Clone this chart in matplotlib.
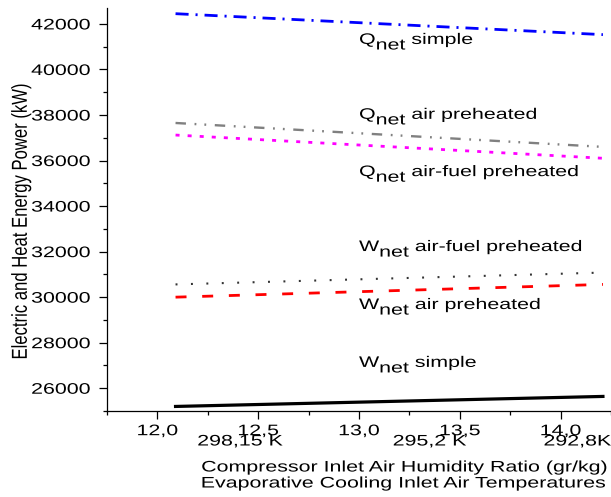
import matplotlib
matplotlib.use('Agg')
import matplotlib.pyplot as plt
from matplotlib.ticker import MultipleLocator, FuncFormatter
from matplotlib.patheffects import AbstractPathEffect
from matplotlib.transforms import Affine2D

plt.rcParams['font.family'] = ['Liberation Sans', 'DejaVu Sans']
plt.rcParams['lines.scale_dashes'] = False

# ---- data ----
humidity = [12.09, 14.21]
q_simple = [42450, 41530]
q_air = [37650, 36600]
q_airfuel = [37120, 36100]
w_airfuel = [30560, 31080]
w_air = [30000, 30560]
w_simple = [25200, 25640]

temp_labels = ["298,15 K", "295,2 K", "292,8K"]
temp_pos = [12.41, 13.35, 14.25]

series_labels = [("Q", "net", " simple", 13.0, 41122),
                 ("Q", "net", " air preheated", 13.0, 37832),
                 ("Q", "net", " air-fuel preheated", 13.0, 35317),
                 ("W", "net", " air-fuel preheated", 13.0, 32026),
                 ("W", "net", " air preheated", 13.0, 29480),
                 ("W", "net", " simple", 13.0, 26937)]

SX = 1.4  # horizontal widening of the lettering, as in the reference


class StretchX(AbstractPathEffect):
    """Widen text glyphs horizontally (display x) about an anchor."""

    def __init__(self, sx, anchor='center', x0=None):
        super().__init__()
        self.sx = sx
        self.anchor = anchor
        self.x0 = x0

    def draw_path(self, renderer, gc, tpath, affine, rgbFace=None):
        if self.x0 is not None:
            X = self.x0
        else:
            ext = tpath.get_extents()
            if self.anchor == 'left':
                gx = ext.x0
            elif self.anchor == 'right':
                gx = ext.x1
            else:
                gx = 0.5 * (ext.x0 + ext.x1)
            gy = 0.5 * (ext.y0 + ext.y1)
            X, _ = affine.transform((gx, gy))
        new_aff = affine + Affine2D().translate(-X, 0).scale(self.sx, 1).translate(X, 0)
        renderer.draw_path(gc, tpath, new_aff, rgbFace)


W, H = 611, 497
fig = plt.figure(figsize=(W / 100, H / 100), dpi=100)
ax = fig.add_axes([107 / W, 86 / H, 504 / W, 403 / H])

ax.plot(humidity, q_simple, color='#0000ff', lw=2.0, linestyle=(0, (9.4, 5, 1.5, 5)))
ax.plot(humidity, q_air, color='#808080', lw=1.7, linestyle=(0, (7.5, 6.2, 1.3, 5.8, 1.3, 6.2)))
ax.plot(humidity, q_airfuel, color='#ff00ff', lw=2.0, linestyle=(0, (2.9, 5.8)))
ax.plot(humidity, w_airfuel, color='#333333', lw=1.5, linestyle=(0, (1.4, 9.7)))
ax.plot(humidity, w_air, color='#ff0000', lw=2.0, linestyle=(0, (7.9, 11.3)))
ax.plot(humidity, w_simple, color='black', lw=2.3, linestyle='-')

ax.set_xlim(11.75, 14.25)
ax.set_ylim(25000, 42700)

ax.xaxis.set_major_locator(MultipleLocator(0.5))
ax.xaxis.set_minor_locator(MultipleLocator(0.25))
ax.yaxis.set_major_locator(MultipleLocator(2000))
ax.yaxis.set_minor_locator(MultipleLocator(1000))
ax.xaxis.set_major_formatter(FuncFormatter(lambda v, p: f"{v:.1f}".replace('.', ',')))
ax.yaxis.set_major_formatter(FuncFormatter(lambda v, p: f"{int(round(v))}"))

for s in ['top', 'right']:
    ax.spines[s].set_visible(False)
for s in ['left', 'bottom']:
    ax.spines[s].set_linewidth(0.9)

ax.tick_params(axis='both', which='major', direction='out', length=5.5, width=0.9,
               labelsize=11)
ax.tick_params(axis='both', which='minor', direction='out', length=3, width=0.9)
ax.tick_params(axis='x', which='major', pad=4)
ax.tick_params(axis='y', which='major', pad=6.5)

fs = 11
for big, sub, rest, xx, yy in series_labels:
    x0 = ax.transData.transform((xx, yy))[0]
    pe = [StretchX(SX, x0=x0)]
    t1 = ax.text(xx, yy, big, fontsize=fs, ha='left', va='baseline', path_effects=pe)
    t2 = ax.annotate(sub, xy=(1, 0), xycoords=t1, xytext=(0, -4), textcoords='offset points',
                     fontsize=fs, ha='left', va='bottom', path_effects=pe)
    ax.annotate(rest, xy=(1, 0), xycoords=(t2, t1), xytext=(0, 0), textcoords='offset points',
                fontsize=fs, ha='left', va='bottom', path_effects=pe)

for lab, xp in zip(temp_labels, temp_pos):
    ha = 'right' if lab == temp_labels[-1] else 'center'
    ax.annotate(lab, xy=(xp, 0), xycoords=('data', 'axes fraction'),
                xytext=(0, -(445.5 - 411) * 0.72), textcoords='offset points',
                fontsize=11, ha=ha, va='baseline', annotation_clip=False,
                path_effects=[StretchX(SX, anchor=ha)])

fig.text(404 / W, 1 - 471.5 / H, "Compressor Inlet Air Humidity Ratio (gr/kg)",
         fontsize=11, ha='center', va='baseline', path_effects=[StretchX(SX)])
fig.text(403 / W, 1 - 487.5 / H, "Evaporative Cooling Inlet Air Temperatures",
         fontsize=11, ha='center', va='baseline', path_effects=[StretchX(SX)])
fig.text(21 / W, 1 - 221 / H, "Electric and Heat Energy Power (kW)",
         fontsize=12, rotation=90, ha='center', va='center', path_effects=[StretchX(1.3)])

fig.canvas.draw()
for lab in ax.get_xticklabels():
    lab.set_path_effects([StretchX(SX, anchor='center')])
for lab in ax.get_yticklabels():
    lab.set_path_effects([StretchX(SX, anchor='right')])

fig.savefig('out.png', dpi=100)
